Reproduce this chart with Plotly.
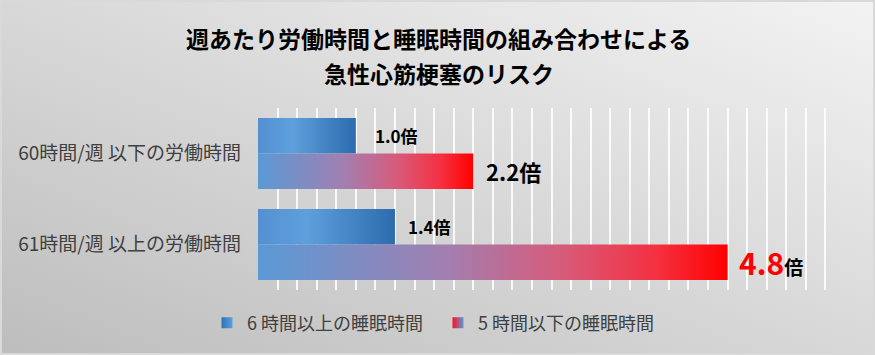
import base64
import plotly.graph_objects as go

# ---------------- data ----------------
title_lines = ["週あたり労働時間と睡眠時間の組み合わせによる", "急性心筋梗塞のリスク"]
categories = ["60時間/週 以下の労働時間", "61時間/週 以上の労働時間"]
series_names = ["6 時間以上の睡眠時間", "5 時間以下の睡眠時間"]
sleep_6h_plus = [1.0, 1.4]
sleep_5h_less = [2.2, 4.8]
unit = "倍"
x_max = 6.0
x_dtick = 0.2

# ---------------- styles / layout ----------------
W, H = 875, 355
L, R, T, B = 258, 30, 108, 65
PW, PH = W - L - R, H - T - B
FONT = "Noto Sans CJK JP"
TXT = "#404040"
BAR_H = 0.39  # in category units

blue_scale = [[0, "#5590d0"], [0.35, "#5e9fdc"], [1, "#2c6cae"]]
red_scale = [[0, "#5a9ad6"], [0.4, "#a27fb0"], [0.65, "#d85a7a"], [0.85, "#f53040"], [1, "#ff0000"]]

blue_label_style = [dict(size=17, xshift=17), dict(size=17, xshift=11)]
red_label_style = [dict(num_color="#000000", num_size=22, unit_size=22, xshift=11),
                   dict(num_color="#ff0000", num_size=30, unit_size=19, xshift=9)]


def px_to_paper_x(px):
    return (px - L) / PW


def px_to_paper_y(py):
    return (H - B - py) / PH


def rect(v, y0, y1):
    return [0, v, v, 0, 0], [y0, y0, y1, y1, y0]


fig = go.Figure()

for i, cat in enumerate(categories):
    xs, ys = rect(sleep_6h_plus[i], i - BAR_H, i)
    fig.add_trace(go.Scatter(x=xs, y=ys, mode="lines", fill="toself", line=dict(width=0),
                             fillgradient=dict(type="horizontal", colorscale=blue_scale),
                             showlegend=False, name=series_names[0], hoverinfo="skip"))
    xs, ys = rect(sleep_5h_less[i], i, i + BAR_H)
    fig.add_trace(go.Scatter(x=xs, y=ys, mode="lines", fill="toself", line=dict(width=0),
                             fillgradient=dict(type="horizontal", colorscale=red_scale),
                             showlegend=False, name=series_names[1], hoverinfo="skip"))

# legend entries
fig.add_trace(go.Scatter(x=[None], y=[None], mode="markers", name=series_names[0],
                         marker=dict(symbol="square", size=11, color="#2f72b8",
                                     gradient=dict(type="horizontal", color="#5e9fdc"))))
fig.add_trace(go.Scatter(x=[None], y=[None], mode="markers", name=series_names[1],
                         marker=dict(symbol="square", size=11, color="#ff1020",
                                     gradient=dict(type="horizontal", color="#5a9ad6"))))

annotations = []
for i in range(len(categories)):
    s = blue_label_style[i]
    annotations.append(dict(x=sleep_6h_plus[i], y=i - BAR_H / 2, xref="x", yref="y",
                            text=f"{sleep_6h_plus[i]:.1f}{unit}", showarrow=False,
                            xanchor="left", yanchor="middle", xshift=s["xshift"],
                            font=dict(family=FONT, size=s["size"], color="#000000", weight="bold")))
    s = red_label_style[i]
    txt = (f"<span style='color:{s['num_color']};font-size:{s['num_size']}px'>{sleep_5h_less[i]:.1f}</span>"
           f"<span style='font-size:{s['unit_size']}px'>{unit}</span>")
    annotations.append(dict(x=sleep_5h_less[i], y=i + BAR_H / 2, xref="x", yref="y",
                            text=txt, showarrow=False, xanchor="left", yanchor="middle",
                            xshift=s["xshift"],
                            font=dict(family=FONT, size=s["unit_size"], color="#000000", weight="bold")))

for line, py in zip(title_lines, [38, 73]):
    annotations.append(dict(x=px_to_paper_x(W / 2 + 1), y=px_to_paper_y(py), xref="paper", yref="paper",
                            text=line, showarrow=False, xanchor="center", yanchor="middle",
                            font=dict(family=FONT, size=23, color="#000000", weight="bold")))

svg = f'''<svg xmlns="http://www.w3.org/2000/svg" width="{W}" height="{H}" viewBox="0 0 {W} {H}" preserveAspectRatio="none">
<defs><linearGradient id="g" x1="0" y1="1" x2="1" y2="0">
<stop offset="0" stop-color="#bdbdbd"/><stop offset="1" stop-color="#f3f3f3"/></linearGradient></defs>
<rect x="0" y="0" width="{W}" height="{H}" fill="url(#g)"/>
<rect x="1" y="1" width="{W - 2}" height="{H - 2}" fill="none" stroke="#d9d9d9" stroke-width="2"/>
</svg>'''
bg_src = "data:image/svg+xml;base64," + base64.b64encode(svg.encode("utf-8")).decode("ascii")

fig.update_layout(
    width=W, height=H,
    margin=dict(l=L, r=R, t=T, b=B, pad=0),
    paper_bgcolor="#d9d9d9",
    plot_bgcolor="rgba(0,0,0,0)",
    font=dict(family=FONT, color=TXT),
    images=[dict(source=bg_src, xref="paper", yref="paper",
                 x=-L / PW, y=1 + T / PH, sizex=W / PW, sizey=H / PH,
                 xanchor="left", yanchor="top", sizing="stretch", layer="below")],
    xaxis=dict(range=[0, x_max], dtick=x_dtick, tick0=0, showgrid=True, gridcolor="rgba(255,255,255,0.85)",
               gridwidth=1.5, showticklabels=False, zeroline=False, showline=False, ticks=""),
    yaxis=dict(range=[len(categories) - 0.5, -0.5], tickmode="array",
               tickvals=list(range(len(categories))), ticktext=categories,
               showgrid=False, zeroline=False, showline=False, ticks="",
               ticklabelstandoff=16, tickfont=dict(family=FONT, size=19, color=TXT)),
    legend=dict(orientation="h", x=px_to_paper_x(207), y=px_to_paper_y(323),
                xanchor="left", yanchor="middle", bgcolor="rgba(0,0,0,0)",
                entrywidth=186, entrywidthmode="pixels",
                font=dict(family=FONT, size=18, color=TXT)),
    annotations=annotations,
    showlegend=True,
)

fig.write_html("out.html", config={"displayModeBar": False},
               post_script="document.body.style.margin='0';document.body.style.padding='0';")
